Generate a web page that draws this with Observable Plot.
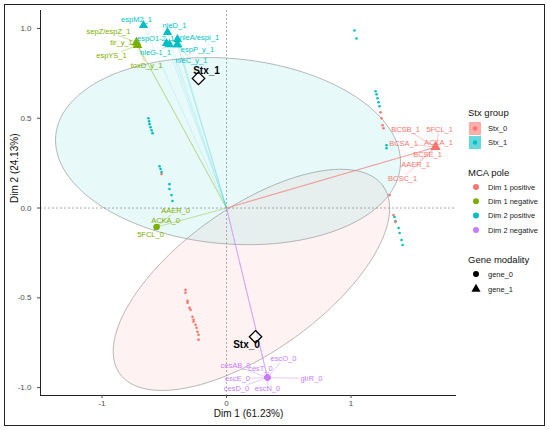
<!DOCTYPE html>
<html><head><meta charset="utf-8">
<script src="https://cdn.jsdelivr.net/npm/d3@7"></script>
<script src="https://cdn.jsdelivr.net/npm/@observablehq/plot@0.6"></script>
<style>
body{margin:0;background:#fff;font-family:"Liberation Sans",Arial,sans-serif;}
#wrap{position:relative;width:550px;height:430px;overflow:hidden}
#frame{position:absolute;left:4px;top:4px;width:541px;height:422px;border:1px solid #222;box-sizing:border-box;pointer-events:none}
</style></head><body><div id="wrap"><div id="chart"></div><div id="frame"></div></div>
<script>
// ---------- DATA ----------
// individuals (MCA row coordinates)
const indGroup = ["Stx_1","Stx_1","Stx_1","Stx_1","Stx_1","Stx_1","Stx_1","Stx_1","Stx_1","Stx_1","Stx_1","Stx_1","Stx_1",
  "Stx_1","Stx_1","Stx_1","Stx_1","Stx_1","Stx_1","Stx_1","Stx_1","Stx_1","Stx_1","Stx_1","Stx_1","Stx_1","Stx_1","Stx_1",
  "Stx_0","Stx_0","Stx_0","Stx_0","Stx_0","Stx_0","Stx_0","Stx_0",
  "Stx_0","Stx_0","Stx_0","Stx_0","Stx_0","Stx_0","Stx_0","Stx_0","Stx_0","Stx_0","Stx_0","Stx_0","Stx_0","Stx_0"];
const indX = [-0.627,-0.622,-0.618,-0.610,-0.602,-0.594,-0.538,-0.530,-0.522,-0.458,-0.458,-0.442,-0.434,
  1.028,1.044,1.197,1.205,1.213,1.221,1.229,1.285,1.285,1.349,1.357,1.382,1.390,1.406,1.414,
  -0.522,1.237,1.245,1.253,1.261,1.309,1.341,1.357,
  -0.329,-0.329,-0.313,-0.313,-0.297,-0.289,-0.273,-0.265,-0.265,-0.249,-0.241,-0.233,-0.225,-0.225];
const indY = [0.500,0.483,0.467,0.450,0.433,0.417,0.233,0.217,0.200,0.133,0.106,0.072,0.039,
  0.989,0.944,0.650,0.633,0.611,0.589,0.567,0.350,0.333,-0.050,-0.072,-0.111,-0.139,-0.178,-0.206,
  0.189,0.533,0.500,0.461,0.444,0.072,-0.039,-0.078,
  -0.456,-0.472,-0.517,-0.528,-0.556,-0.567,-0.606,-0.622,-0.633,-0.650,-0.667,-0.689,-0.706,-0.733];

// variable categories
const varNames = ["sepZ/espZ_1","tir_y_1","espYS_1","toxD_y_1",
  "espM2_1","nleD_1","espO1-2_1","nleA/espI_1","espP_y_1","nleG-1_1","nleC_y_1",
  "BCSB_1","5FCL_1","BCSA_1","ACKA_1","BCSE_1","AAER_1","BCSC_1",
  "AAER_0","ACKA_0","5FCL_0",
  "escO_0","cesAB_0","cesT_0","escE_0","glrR_0","cesD_0","escN_0"];
const varX = [-0.723,-0.723,-0.715,-0.715,
  -0.667,-0.474,-0.482,-0.394,-0.394,-0.458,-0.394,
  1.679,1.679,1.679,1.679,1.679,1.679,1.679,
  -0.562,-0.562,-0.562,
  0.329,0.329,0.329,0.329,0.329,0.329,0.329];
const varY = [0.922,0.922,0.906,0.906,
  1.017,0.978,0.917,0.939,0.911,0.911,0.911,
  0.339,0.339,0.339,0.339,0.339,0.339,0.339,
  -0.106,-0.106,-0.106,
  -0.944,-0.944,-0.944,-0.944,-0.944,-0.944,-0.944];
const varPole = ["Dim 1 negative","Dim 1 negative","Dim 1 negative","Dim 1 negative",
  "Dim 2 positive","Dim 2 positive","Dim 2 positive","Dim 2 positive","Dim 2 positive","Dim 2 positive","Dim 2 positive",
  "Dim 1 positive","Dim 1 positive","Dim 1 positive","Dim 1 positive","Dim 1 positive","Dim 1 positive","Dim 1 positive",
  "Dim 1 negative","Dim 1 negative","Dim 1 negative",
  "Dim 2 negative","Dim 2 negative","Dim 2 negative","Dim 2 negative","Dim 2 negative","Dim 2 negative","Dim 2 negative"];
const varModality = varNames.map(n => n.endsWith("_1") ? "gene_1" : "gene_0");

// group centroids
const stxGroups = ["Stx_0","Stx_1"];
const stxX = [0.233,-0.225];
const stxY = [-0.717,0.722];

// confidence ellipses: centre and semi-axis vectors (data units)
const ellCx = [0.200, 0.012];
const ellCy = [-0.400, 0.317];
const ellUx = [1.060, 1.384];
const ellUy = [0.520, -0.086];
const ellVx = [0.330, -0.067];
const ellVy = [-0.330, -0.514];

// axes
const xTicks = [-1, 0, 1];
const yTicks = [-1, -0.5, 0, 0.5, 1];
const poleNames = ["Dim 1 positive","Dim 1 negative","Dim 2 positive","Dim 2 negative"];
const modalityNames = ["gene_0","gene_1"];

// ---------- LAYOUT / STYLE ----------
const poleColors = ["#F8766D","#7CAE00","#00BFC4","#C77CFF"];
const groupColors = ["#F8766D","#00BFC4"];
// repel-style label nudges (px)
const labelNudge = {
  "sepZ/espZ_1":[-28,-11],"tir_y_1":[-15,0],"espYS_1":[-26,10],"toxD_y_1":[9,20],
  "espM2_1":[-7,-6],"nleD_1":[7,-7],"espO1-2_1":[-11,-5],"nleA/espI_1":[22,-2],"espP_y_1":[20,5],"nleG-1_1":[-14,8],"nleC_y_1":[14,16],
  "BCSB_1":[-30,-18],"5FCL_1":[4,-18],"BCSA_1":[-32,-4],"ACKA_1":[3,-5],"BCSE_1":[-8,7],"AAER_1":[-20,17],"BCSC_1":[-33,31],
  "AAER_0":[19,-16],"ACKA_0":[9,-6],"5FCL_0":[-6,8],
  "escO_0":[16,-19],"cesAB_0":[-32,-12],"cesT_0":[-7,-9],"escE_0":[-30,1],"glrR_0":[44,1],"cesD_0":[-31,11],"escN_0":[0,11]
};
const W = 550, H = 430, mL = 40, mR = 94, mT = 10, mB = 35;
const xDom = [-1.494, 1.847], yDom = [-1.044, 1.1];
const kx = (W - mL - mR) / (xDom[1] - xDom[0]);
const ky = (H - mT - mB) / (yDom[1] - yDom[0]);

// ---------- build tables ----------
const inds = indX.map((x, i) => ({x, y: indY[i], g: indGroup[i]}));
const vars = varNames.map((n, i) => {
  const [dx, dy] = labelNudge[n];
  const hw = n.length * 1.9 + 1, hh = 3.8;
  const t = Math.min(dx ? hw / Math.abs(dx) : Infinity, dy ? hh / Math.abs(dy) : Infinity);
  const f = Math.max(0, 1 - t);
  return {name: n, x: varX[i], y: varY[i], pole: varPole[i], mod: varModality[i],
    lx: varX[i] + dx / kx, ly: varY[i] - dy / ky,
    sx: varX[i] + dx * f / kx, sy: varY[i] - dy * f / ky, seg: f * Math.hypot(dx, dy) > 2};
});
const cents = stxGroups.map((g, i) => ({g, x: stxX[i], y: stxY[i]}));
const ell = [];
stxGroups.forEach((g, i) => {
  for (let k = 0; k <= 120; k++) {
    const t = 2 * Math.PI * k / 120;
    ell.push({g, x: ellCx[i] + Math.cos(t) * ellUx[i] + Math.sin(t) * ellVx[i],
                 y: ellCy[i] + Math.cos(t) * ellUy[i] + Math.sin(t) * ellVy[i]});
  }
});
const poleColor = p => poleColors[poleNames.indexOf(p)];
const groupColor = g => groupColors[stxGroups.indexOf(g)];

const plot = Plot.plot({
  width: W, height: H, marginLeft: mL, marginRight: mR, marginTop: mT, marginBottom: mB,
  style: {fontFamily: '"Liberation Sans", Arial, sans-serif', background: "transparent", overflow: "visible"},
  x: {domain: xDom}, y: {domain: yDom},
  marks: [
    Plot.line(ell.filter(d => d.g === "Stx_0"), {x: "x", y: "y", fill: "#F8766D", fillOpacity: 0.09, stroke: "#9a9a9a", strokeWidth: 0.7}),
    Plot.line(ell.filter(d => d.g === "Stx_1"), {x: "x", y: "y", fill: "#00BFC4", fillOpacity: 0.09, stroke: "#9a9a9a", strokeWidth: 0.7}),
    Plot.ruleX([0], {stroke: "#8a8a8a", strokeDasharray: "2,2", strokeWidth: 0.7}),
    Plot.ruleY([0], {stroke: "#8a8a8a", strokeDasharray: "2,2", strokeWidth: 0.7}),
    Plot.link(vars, {x1: 0, y1: 0, x2: "x", y2: "y", stroke: d => poleColor(d.pole), strokeOpacity: 0.28, strokeWidth: 0.5}),
    Plot.dot(inds, {x: "x", y: "y", fill: d => groupColor(d.g), r: 1.3}),
    Plot.link(vars.filter(d => d.seg), {x1: "x", y1: "y", x2: "sx", y2: "sy", stroke: d => poleColor(d.pole), strokeWidth: 0.5, strokeOpacity: 0.8}),
    Plot.dot(vars, {x: "x", y: "y", fill: d => poleColor(d.pole), symbol: d => d.mod === "gene_1" ? "triangle" : "circle", r: d => d.mod === "gene_1" ? 4 : 3}),
    Plot.text(vars, {x: "lx", y: "ly", text: "name", fill: d => poleColor(d.pole), fontSize: 7.5}),
    Plot.dot(cents, {x: "x", y: "y", symbol: "diamond2", r: 5.6, stroke: "black", strokeWidth: 1.3, fill: "white", fillOpacity: 0.6}),
    Plot.text(cents.filter(d => d.g === "Stx_1"), {x: "x", y: "y", text: "g", dx: 8, dy: -8, fontWeight: "bold", fontSize: 10, fill: "black"}),
    Plot.text(cents.filter(d => d.g === "Stx_0"), {x: "x", y: "y", text: "g", dx: -9, dy: 8, fontWeight: "bold", fontSize: 10, fill: "black"}),
    Plot.ruleX([xDom[0]], {stroke: "#222", strokeWidth: 1}),
    Plot.ruleY([yDom[0]], {stroke: "#222", strokeWidth: 1}),
    Plot.axisX({ticks: xTicks, tickFormat: d => String(d), tickSize: 3, tickPadding: 2, fontSize: 8, color: "#4d4d4d", label: null}),
    Plot.axisY({ticks: yTicks, tickFormat: d => d.toFixed(1), tickSize: 3, fontSize: 8, color: "#4d4d4d", label: null}),
    Plot.text(["Dim 1 (61.23%)"], {frameAnchor: "bottom", dy: 21, text: d => d, fontSize: 10, fill: "#111"}),
    Plot.text(["Dim 2 (24.13%)"], {frameAnchor: "left", dx: -26, rotate: -90, text: d => d, fontSize: 10, fill: "#111"})
  ]
});
document.getElementById("chart").appendChild(plot);

// ---------- legend ----------
const svg = d3.select(plot);
const lg = svg.append("g").attr("font-family", '"Liberation Sans", Arial, sans-serif').attr("text-anchor", "start");
const lx0 = 468;
lg.append("text").attr("x", lx0).attr("y", 116).attr("font-size", 9.5).attr("fill", "#111").text("Stx group");
stxGroups.forEach((g, i) => {
  const y = 122 + i * 14;
  lg.append("rect").attr("x", lx0 + 1).attr("y", y).attr("width", 12).attr("height", 13)
    .attr("fill", groupColors[i]).attr("fill-opacity", 0.6);
  lg.append("circle").attr("cx", lx0 + 7).attr("cy", y + 6.5).attr("r", 2.2).attr("fill", groupColors[i]);
  lg.append("text").attr("x", lx0 + 20).attr("y", y + 9).attr("font-size", 7.5).attr("fill", "#222").text(g);
});
lg.append("text").attr("x", lx0).attr("y", 176).attr("font-size", 9.5).attr("fill", "#111").text("MCA pole");
poleNames.forEach((p, i) => {
  const y = 187 + i * 14.3;
  lg.append("circle").attr("cx", lx0 + 8).attr("cy", y).attr("r", 3).attr("fill", poleColors[i]);
  lg.append("text").attr("x", lx0 + 20).attr("y", y + 2.7).attr("font-size", 7.5).attr("fill", "#222").text(p);
});
lg.append("text").attr("x", lx0).attr("y", 263).attr("font-size", 9.5).attr("fill", "#111").text("Gene modality");
modalityNames.forEach((m, i) => {
  const y = 274 + i * 15;
  if (i === 0) lg.append("circle").attr("cx", lx0 + 8).attr("cy", y).attr("r", 3).attr("fill", "#000");
  else lg.append("path").attr("d", d3.symbol(d3.symbolTriangle, 36)()).attr("transform", `translate(${lx0 + 8},${y})`).attr("fill", "#000");
  lg.append("text").attr("x", lx0 + 20).attr("y", y + 2.7).attr("font-size", 7.5).attr("fill", "#222").text(m);
});
</script></body></html>
